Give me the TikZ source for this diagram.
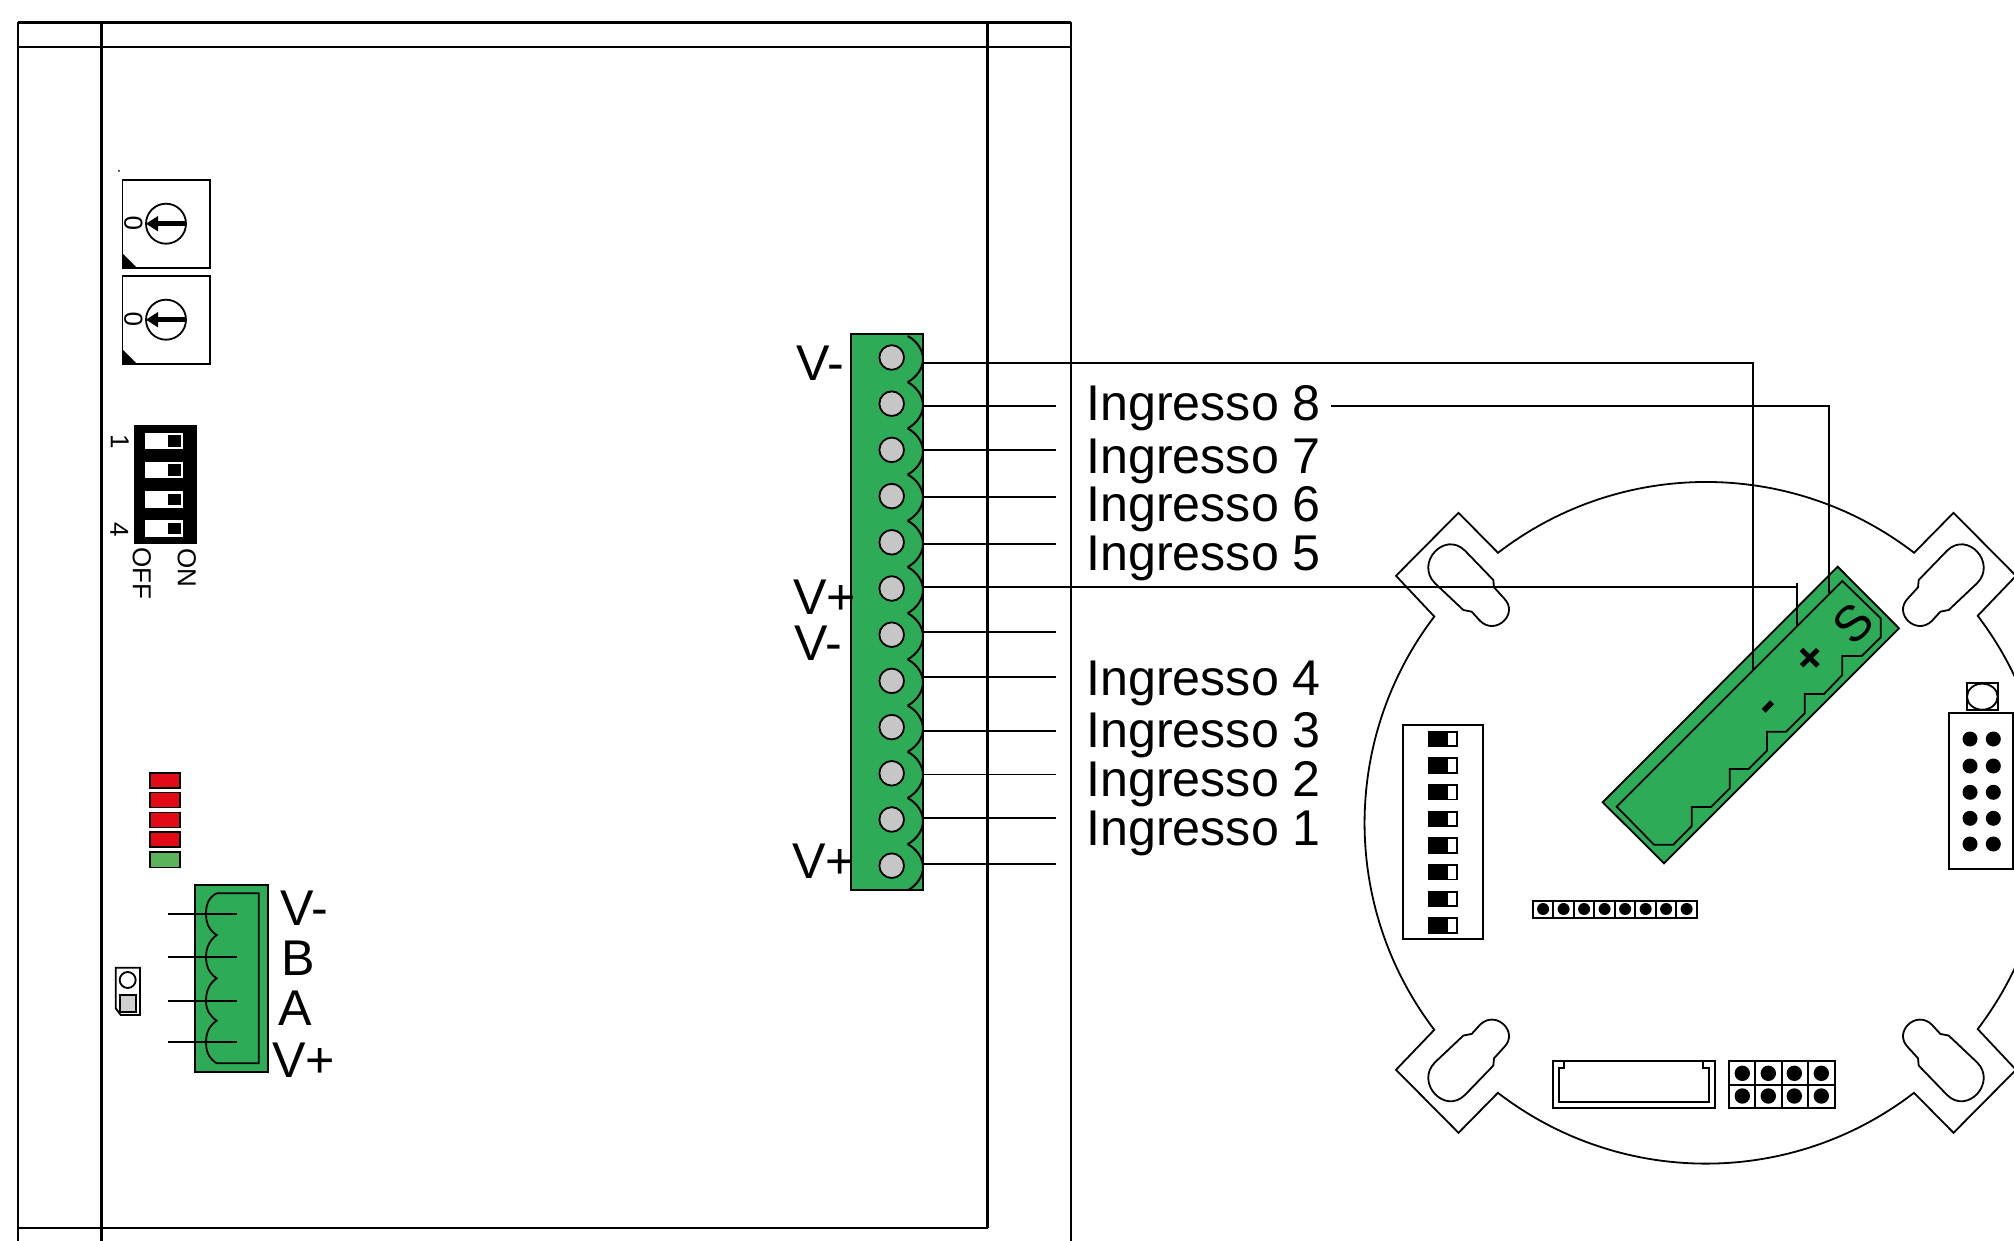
\documentclass[tikz,border=0pt]{standalone}
\usepackage{fontspec}
\setmainfont{Liberation Sans}
\definecolor{cgreen}{HTML}{2EAB57}
\definecolor{cled}{HTML}{5BB35B}
\definecolor{cred}{HTML}{E30A17}
\definecolor{chole}{HTML}{C6C6C6}
\tikzset{
  thin line/.style={line width=.9pt,draw=black},
  frame line/.style={line width=1.25pt,draw=black},
  big/.style={font=\fontsize{25.1}{25}\selectfont,inner sep=0pt,anchor=base west},
  small/.style={font=\fontsize{13}{13}\selectfont,inner sep=0pt,rotate=-90},
  board/.style={line width=.9pt,draw=black,line join=miter},
}
\newcommand{\keyslot}{%
  \draw[board] (-241,-272.1) -- (-212.7,-242.8) -- (-212,-235.5) -- (-202,-224.5)
    .. controls (-186.5,-209) and (-210.5,-186.5) .. (-226,-202)
    -- (-234.3,-211.1) -- (-242.7,-212.8) -- (-271,-239.5)
    .. controls (-291.3,-259.8) and (-261.3,-292.4) .. cycle;}
\begin{document}
\begin{tikzpicture}[x=.5pt,y=-.5pt]
\useasboundingbox (0,0) rectangle (2014,1241);
\clip (0,0) rectangle (2014,1241);
% housing frame
\draw[frame line] (18,22.3) -- (1071,22.3) (18,47) -- (1071,47);
\draw[frame line] (18,22.3) -- (18,1241) (101.7,22.3) -- (101.7,1241)
  (987.5,22.3) -- (987.5,1228) (1071,22.3) -- (1071,1241);
\draw[frame line] (18,1228) -- (987.5,1228);
% rotary switches
\fill (119,171) circle (1);
\foreach \yy in {180,276}{
  \draw[line width=.9pt,fill=white] (122.5,\yy) rectangle (210,\yy+87.7);
  \fill (122.5,\yy+73.3) -- (122.5,\yy+87.7) -- (136.7,\yy+87.7) -- cycle;
  \draw[line width=.9pt] (166,\yy+43.7) circle (20);
  \draw[line width=2.6pt] (186,\yy+43.7) -- (155,\yy+43.7);
  \fill (146,\yy+43.7) -- (158,\yy+36) -- (158,\yy+51.4) -- cycle;
  \node[small,rotate=180] at (133.3,\yy+43.7) {0};
}
% DIP switch 4
\fill (134.3,425.3) rectangle (196.7,544);
\foreach \yy in {432.7,461.9,491.2,520.4}{
  \fill[white] (145,\yy) rectangle (183.3,\yy+16.4);
  \fill (168.3,\yy+2.4) rectangle (181,\yy+14);
}
\node[small] (n1) at (119.8,441.7) {1};
\node[small] (n4) at (119.3,530) {4};
\node[small] (on) at (186.7,568) {ON};
\node[small] (off) at (141.7,573) {OFF};
% LEDs
\foreach \yy in {772.7,792.5,812.4,832.2}{
  \draw[line width=.9pt,fill=cred] (150.3,\yy) rectangle (180,\yy+15);
}
\draw[line width=.9pt,fill=cled] (150.3,852) rectangle (180,867.5);
% jumper
\draw[line width=.9pt,fill=white] (115.7,967.7) -- (140,967.7) -- (140,1015) -- (120.7,1015) -- (115.7,1008.3) -- cycle;
\draw[line width=.9pt] (127.7,980) circle (8);
\draw[line width=.9pt,fill=chole!85!white] (120,995) rectangle (136,1011.7);
% 4 pin connector
\draw[thin line,line width=1pt,fill=cgreen] (195,884.8) rectangle (267.5,1072.3);
\draw[thin line] (216.7,893.3) -- (258.7,893.3) -- (258.7,1063.3) -- (216.7,1063.3)
  .. controls (208,1058) and (206,1050) .. (206,1042.3)
  .. controls (206,1032) and (210,1025) .. (216.7,1020.7)
  .. controls (210,1016) and (206,1010) .. (206,1001)
  .. controls (206,990) and (210,983) .. (216.7,978.3)
  .. controls (210,974) and (206,967) .. (206,957.3)
  .. controls (206,947) and (210,940) .. (216.7,935)
  .. controls (210,931) and (206,924) .. (206,914)
  .. controls (206,904) and (209,897) .. (216.7,893.3);
\foreach \yy in {914,957.3,1001,1042.3}{
  \draw[thin line] (168.3,\yy) -- (237.3,\yy);
}
\node[big] (tvm) at (280,925) {V-};
\node[big] (tb) at (281,975) {B};
\node[big] (ta) at (278,1025) {A};
\node[big] (tvp) at (271.7,1077) {V+};
% 12 pin connector
\draw[thin line,line width=1pt,fill=cgreen] (850.7,334.5) rectangle (923,890);
\foreach \k in {0,...,11}{
  \pgfmathsetmacro{\yy}{336+46.2*\k}
  \pgfmathsetmacro{\yh}{357.5+46.2*\k}
  \draw[thin line,line width=1pt] (907.7,\yy)
    .. controls (917,\yy+5) and (923,\yy+14) .. (923,\yy+23.1)
    .. controls (923,\yy+32) and (917,\yy+41) .. (907.7,\yy+46.2);
  \draw[thin line,fill=chole] (891.7,\yh) circle (12.3);
}
\coordinate (p1) at (923,362.7);
\coordinate (p6) at (923,587.3);
% left labels
\node[big] (lv1) at (796,380) {V-};
\node[big] (lv2) at (793,614) {V+};
\node[big] (lv3) at (794,660) {V-};
\node[big] (lv4) at (792,878) {V+};
% wires to labels
\foreach \yy in {406.3,450.3,496.7,544.3,631.7,677.3,731.3,774.5,818.3,864.3}{
  \draw[thin line] (923,\yy) -- (1056,\yy);
}
% input labels
\node[big] (i8) at (1086,421) {Ingresso 8};
\node[big] (i7) at (1086,473) {Ingresso 7};
\node[big] (i6) at (1086,521) {Ingresso 6};
\node[big] (i5) at (1086,570) {Ingresso 5};
\node[big] (i4) at (1086,695) {Ingresso 4};
\node[big] (i3) at (1086,747) {Ingresso 3};
\node[big] (i2) at (1086,796) {Ingresso 2};
\node[big] (i1) at (1086,845) {Ingresso 1};
% board outline
\draw[board] (1498,552.8)
  arc[start angle=232.4,end angle=307.6,radius=341]
  -- (1953.5,512.8) -- (2016,575.8) -- (1977.7,615.8)
  arc[start angle=-37.3,end angle=37.3,radius=341]
  -- (2016,1069.8) -- (1953.5,1132.8) -- (1914,1092.8)
  arc[start angle=52.4,end angle=127.6,radius=341]
  -- (1458.5,1132.8) -- (1396,1069.8) -- (1434.3,1029.8)
  arc[start angle=142.7,end angle=217.3,radius=341]
  -- (1396,575.8) -- (1458.5,512.8) -- cycle;
\begin{scope}[shift={(1706,822.8)}]
  \keyslot
  \begin{scope}[xscale=-1]\keyslot\end{scope}
  \begin{scope}[yscale=-1]\keyslot\end{scope}
  \begin{scope}[xscale=-1,yscale=-1]\keyslot\end{scope}
\end{scope}
% DIP 8
\draw[board] (1402.7,725.3) rectangle (1483.3,938.7);
\foreach \k in {0,...,7}{
  \pgfmathsetmacro{\yy}{731.7+26.66*\k}
  \draw[board,fill=white] (1429.3,\yy) rectangle (1457.3,\yy+14.4);
  \fill (1429.3,\yy) rectangle (1447.7,\yy+14.4);
}
% 8 way header
\draw[board] (1532.7,900.7) rectangle (1696.7,917.7);
\foreach \k in {0,...,7}{
  \pgfmathsetmacro{\xx}{1532.7+20.5*\k}
  \draw[board] (\xx,900.7) -- (\xx,917.7);
  \fill (\xx+10.4,909) circle (6);
}
% bottom socket
\draw[board] (1552.7,1061.3) rectangle (1714.7,1108.3);
\draw[board] (1564.3,1061.3) -- (1564.3,1067.7) -- (1558.7,1067.7) -- (1558.7,1102)
  -- (1709,1102) -- (1709,1067.7) -- (1702.7,1067.7) -- (1702.7,1061.3);
% 2x4 grid
\draw[board] (1728.7,1061) rectangle (1834.7,1108);
\draw[board] (1755,1061) -- (1755,1108) (1782,1061) -- (1782,1108) (1808.3,1061) -- (1808.3,1108)
  (1728.7,1084.7) -- (1834.7,1084.7);
\foreach \xx in {1742.3,1768.3,1794.3,1821.3}{
  \fill (\xx,1073.3) circle (7.7);
  \fill (\xx,1096) circle (7.7);
}
% right header
\draw[board] (1949.3,712.7) rectangle (2013.3,869.3);
\foreach \yy in {739,766,792.3,818.3,844}{
  \fill (1970,\yy) circle (7.5);
  \fill (1993.3,\yy) circle (7.5);
}
\draw[board] (1966.7,683.3) rectangle (1998,710);
\draw[board] (1982.3,696.7) ellipse (15.3 and 13);
% slanted plug
\draw[line width=.9pt,fill=cgreen,line join=miter] (1837.7,566.7) -- (1899,628.3) -- (1664,863.3) -- (1602.7,802.3) -- cycle;
\draw[line width=.9pt,line join=miter] (1842.3,581) -- (1880.7,618.3) -- (1880.7,637.3) -- (1861.7,656) -- (1842.3,656)
  -- (1842.3,675) -- (1824,694) -- (1804.7,694) -- (1804.7,713.3) -- (1786,731.7) -- (1767,731.7)
  -- (1767,750.7) -- (1748.7,769) -- (1729.7,769) -- (1729.7,788.3) -- (1711,807) -- (1691.7,807)
  -- (1691.7,826) -- (1673.3,844.7) -- (1654,844.7) -- (1616.7,806.7) -- cycle;
\node[font=\fontsize{25}{25}\selectfont,inner sep=0pt,rotate=45] (ps) at (1853,623.5) {S};
\node[font=\fontsize{23}{23}\bfseries,inner sep=0pt,rotate=45] (pp) at (1811,659) {+};
\node[font=\fontsize{24}{24}\bfseries,inner sep=0pt,rotate=45] (pm) at (1771.5,710) {-};
% long wires
\coordinate (a1) at (1752.7,362.7);
\coordinate (a2) at (1752.7,670);
\coordinate (b0) at (1331,406.3);
\coordinate (b1) at (1829,406.3);
\coordinate (b2) at (1829,593);
\coordinate (c1) at (1796.7,587.3);
\coordinate (c2) at (1796.7,583);
\coordinate (c3) at (1796.7,626);
\draw[thin line] (p1) -- (a1) -- (a2);
\draw[thin line] (b0) -- (b1) -- (b2);
\draw[thin line] (p6) -- (c1);
\draw[thin line] (c2) -- (c3);
\end{tikzpicture}
\end{document}
